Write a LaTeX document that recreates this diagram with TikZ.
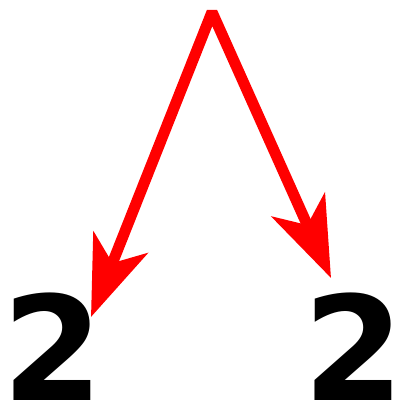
\documentclass[tikz,border=0pt]{standalone}
\usepackage{fontspec}
\setmainfont{DejaVu Sans}
\usetikzlibrary{arrows.meta}
\begin{document}
\begin{tikzpicture}[x=1pt,y=-1pt,
  digit/.style={inner sep=0pt, anchor=base west, font=\fontsize{145}{145}\selectfont\bfseries},
  redarrow/.style={draw=red, line width=11pt, line join=bevel,
    arrows={Stealth[length=80pt,width=58pt,inset=22pt]-Stealth[length=80pt,width=58pt,inset=22pt]}}]
\useasboundingbox (0,0) rectangle (393,404);
\node[digit] (twoL) at (2,400) {2};
\node[digit] (twoR) at (303,400) {2};
\coordinate (apex) at (212,12);
\coordinate (tipL) at (91,317);
\coordinate (tipR) at (331,278);
\draw[redarrow] (tipL) -- (apex) -- (tipR);
\end{tikzpicture}
\end{document}
